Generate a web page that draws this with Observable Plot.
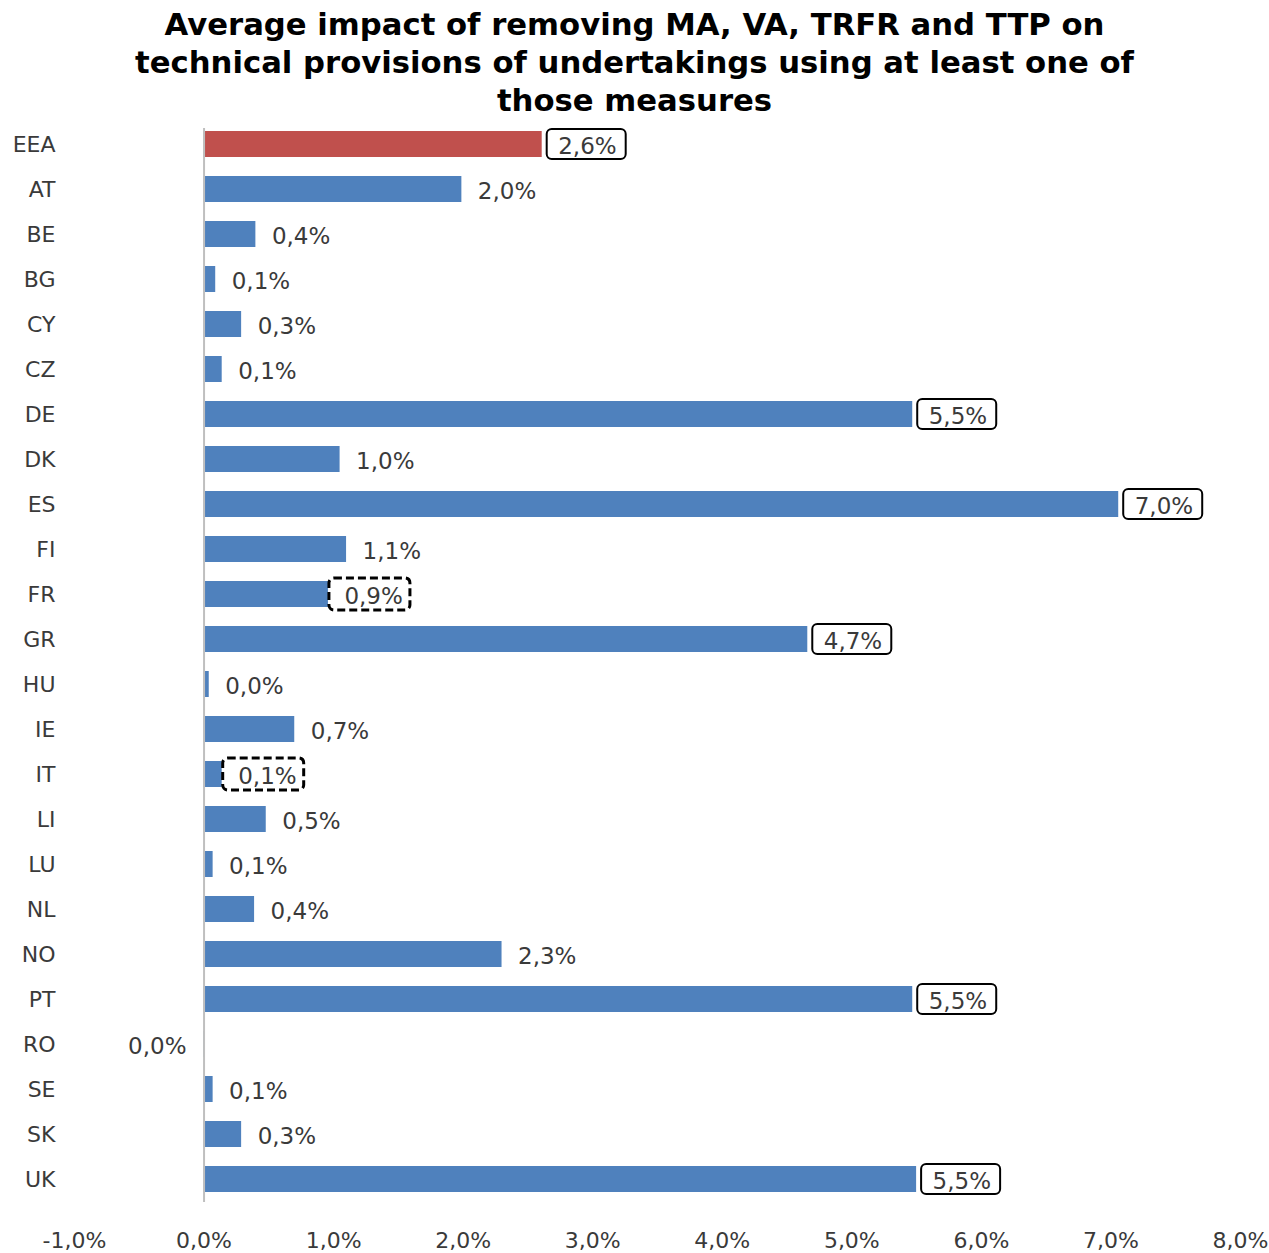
<!DOCTYPE html>
<html><head><meta charset="utf-8">
<script src="https://cdn.jsdelivr.net/npm/d3@7"></script>
<script src="https://cdn.jsdelivr.net/npm/@observablehq/plot@0.6"></script>
<style>
body{margin:0;background:#fff;font-family:"DejaVu Sans",Verdana,sans-serif;}
#title{height:120px;text-align:center;font-weight:bold;font-size:30.7px;line-height:38px;padding-top:6px;box-sizing:border-box;color:#000;}
#chart svg{display:block;}
</style></head><body>
<div id="title">Average impact of removing MA, VA, TRFR and TTP on<br>technical provisions of undertakings using at least one of<br>those measures</div>
<div id="chart"></div>
<script>
const countries = ["EEA","AT","BE","BG","CY","CZ","DE","DK","ES","FI","FR","GR","HU","IE","IT","LI","LU","NL","NO","PT","RO","SE","SK","UK"];
const values = [2.61,1.99,0.40,0.09,0.29,0.14,5.47,1.05,7.06,1.10,0.96,4.66,0.04,0.70,0.14,0.48,0.07,0.39,2.30,5.47,-0.004,0.07,0.29,5.50];
const labels = ["2,6%","2,0%","0,4%","0,1%","0,3%","0,1%","5,5%","1,0%","7,0%","1,1%","0,9%","4,7%","0,0%","0,7%","0,1%","0,5%","0,1%","0,4%","2,3%","5,5%","0,0%","0,1%","0,3%","5,5%"];
const highlighted = ["EEA"];
const solidBoxed = ["EEA","DE","ES","GR","PT","UK"];
const dashedBoxed = ["FR","IT"];
const xTicks = [-1,0,1,2,3,4,5,6,7,8];

const data = countries.map((c, i) => ({country: c, value: values[i], label: labels[i]}));
const blue = "#4F81BD", red = "#C0504D", textColor = "#3a3a3a";
const fmt = d => d.toFixed(1).replace(".", ",") + "%";

const chart = Plot.plot({
  width: 1269,
  height: 1133,
  marginLeft: 74,
  marginRight: 29,
  marginTop: 1,
  marginBottom: 51,
  style: {fontFamily: "'DejaVu Sans', Verdana, sans-serif", fontSize: "22px", color: textColor, background: "#fff"},
  x: {domain: [-1, 8], ticks: xTicks, tickFormat: fmt, label: null, tickSize: 0, tickPadding: 30},
  y: {domain: countries, paddingInner: 0.42, paddingOuter: 0.21, label: null, tickSize: 0, tickPadding: 19},
  marks: [
    Plot.barX(data, {filter: d => !highlighted.includes(d.country), x: "value", y: "country", fill: blue}),
    Plot.barX(data, {filter: d => highlighted.includes(d.country), x: "value", y: "country", fill: red}),
    Plot.ruleX([0], {stroke: "#BFBFBF", strokeWidth: 2, insetTop: 7}),
    Plot.barX(data, {filter: d => solidBoxed.includes(d.country), x1: "value", x2: "value", y: "country",
      insetLeft: 5, insetRight: -84, insetTop: -2, insetBottom: -2, rx: 5, fill: "none", stroke: "#000", strokeWidth: 2}),
    Plot.barX(data, {filter: d => dashedBoxed.includes(d.country), x1: "value", x2: "value", y: "country",
      insetLeft: 1, insetRight: -82, insetTop: -3, insetBottom: -3, rx: 5, fill: "none", stroke: "#000", strokeWidth: 3, strokeDasharray: "8,4"}),
    Plot.text(data, {filter: d => d.value >= 0, x: "value", y: "country", text: "label", dx: 16, dy: 2,
      textAnchor: "start", fontSize: 23, fill: textColor}),
    Plot.text(data, {filter: d => d.value < 0, x: "value", y: "country", text: "label", dx: -17, dy: 2,
      textAnchor: "end", fontSize: 23, fill: textColor})
  ]
});
document.getElementById("chart").appendChild(chart);
</script>
</body></html>
